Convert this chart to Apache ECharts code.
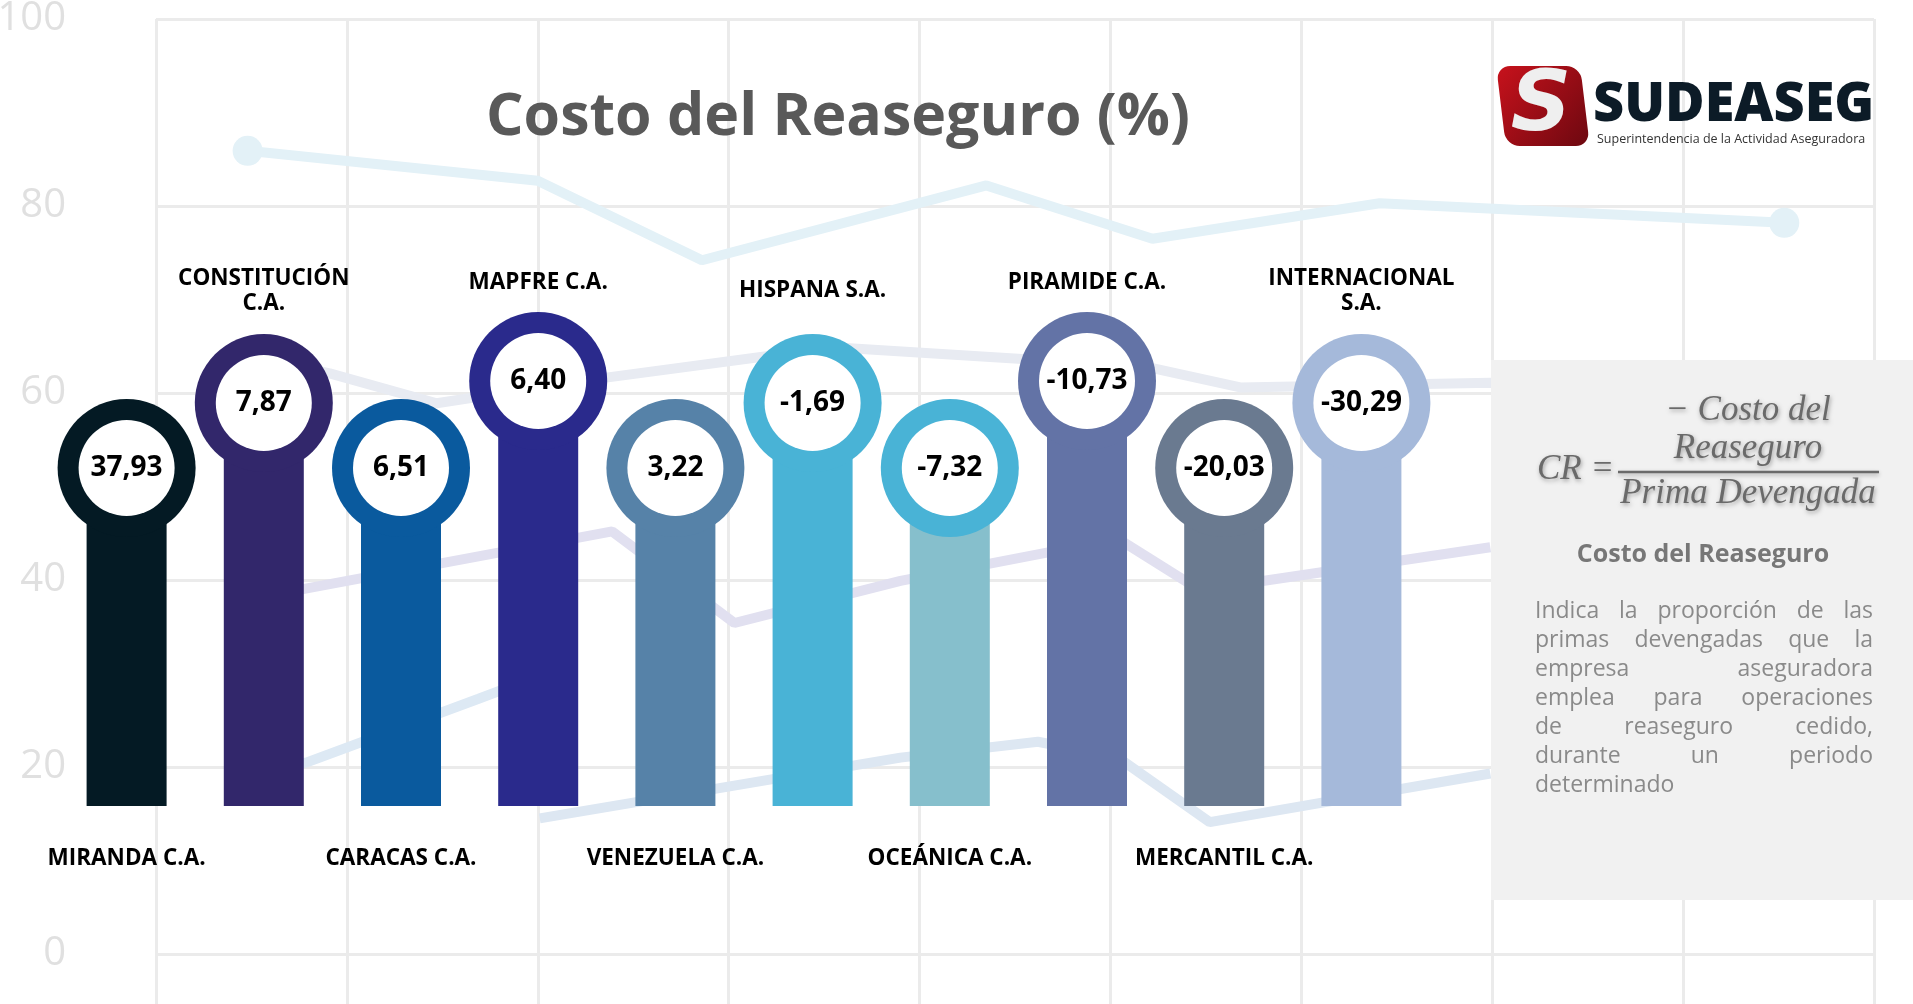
<!DOCTYPE html>
<html lang="es">
<head>
<meta charset="UTF-8">
<title>Costo del Reaseguro</title>
<style>
    html, body { margin: 0; padding: 0; background: #fff; }
    #main { width: 1913px; height: 1004px; }
</style>
</head>
<body>
<div id="main"></div>
<script src="https://cdn.jsdelivr.net/npm/echarts@6/dist/echarts.min.js"></script>
<script>
    // empresas y costo del reaseguro (%)
    var companies = ['MIRANDA C.A.', 'CONSTITUCIÓN\nC.A.', 'CARACAS C.A.', 'MAPFRE C.A.', 'VENEZUELA C.A.',
        'HISPANA S.A.', 'OCEÁNICA C.A.', 'PIRAMIDE C.A.', 'MERCANTIL C.A.', 'INTERNACIONAL\nS.A.'];
    var costo = [37.93, 7.87, 6.51, 6.40, 3.22, -1.69, -7.32, -10.73, -20.03, -30.29];

    var barColors = ['#041a24', '#32276b', '#0a5a9e', '#2a2a8c', '#5682a8', '#49b3d6', '#86bfcc', '#6373a6', '#6a7a90', '#a5b9da'];
    var ringColors = ['#041a24', '#32276b', '#0a5a9e', '#2a2a8c', '#5682a8', '#49b3d6', '#49b3d6', '#6373a6', '#6a7a90', '#a5b9da'];

    // grafico de lineas tenue del fondo [x, y]
    var bgLineA = [[0.48, 85.9], [2.0, 82.7], [2.86, 74.2], [4.35, 82.2], [5.22, 76.5], [6.41, 80.3], [8.53, 78.2]];
    var bgLineB = [[0.48, 64.0], [0.91, 62.1], [1.47, 58.9], [2.27, 61.4], [3.55, 64.9], [5.19, 62.8], [5.68, 60.6], [6.99, 61.1], [7.6, 60.5]];
    var bgLineC = [[0.37, 37.5], [2.39, 45.2], [3.03, 35.4], [3.9, 39.9], [5.04, 44.4], [5.47, 38.9], [6.99, 43.5]];
    var bgLineD = [[0.4, 19.1], [0.79, 20.5], [1.69, 27.3], [2.12, 30.6]];
    var bgLineE = [[2.01, 14.5], [3.9, 21.0], [4.62, 22.7], [5.04, 21.0], [5.52, 14.1], [6.99, 19.3]];

    var paragraph = [
        'Indica la proporción de las',
        'primas devengadas que la',
        'empresa aseguradora',
        'emplea para operaciones',
        'de reaseguro cedido,',
        'durante un periodo',
        'determinado'
    ];

    var FONT = '"Open Sans", sans-serif';

    function fmt(v) {
        return v.toFixed(2).replace('.', ',');
    }

    function renderPin(params, api) {
        var i = api.value(0);
        var base = api.coord([i, 0]);
        var x = base[0], y0 = base[1];
        // cabezas alternadas: abajo / arriba
        var stem = i % 2 === 0 ? 338 : (i % 4 === 3 ? 425 : 403);
        var cy = y0 - stem;
        return {
            type: 'group',
            children: [
                {type: 'rect', shape: {x: x - 40, y: cy, width: 80, height: y0 - cy}, style: {fill: barColors[i]}},
                {type: 'circle', shape: {cx: x, cy: cy, r: 69}, style: {fill: ringColors[i]}},
                {type: 'circle', shape: {cx: x, cy: cy, r: 48}, style: {fill: '#fff'}},
                {
                    type: 'text', x: x, y: cy,
                    style: {text: fmt(api.value(1)), fill: '#000', font: 'bold 28px ' + FONT, align: 'center', verticalAlign: 'middle'}
                },
                {
                    type: 'text', x: x, y: i % 2 === 0 ? y0 + 53 : cy - (i % 4 === 3 ? 98 : 112),
                    style: {text: companies[i], fill: '#000', font: 'bold 22.5px ' + FONT, align: 'center', verticalAlign: 'middle', lineHeight: 25}
                }
            ]
        };
    }

    function bgLine(data, color, dots) {
        return {
            type: 'line', xAxisIndex: 0, yAxisIndex: 0, data: data,
            symbol: 'circle',
            symbolSize: function (v, p) {
                return dots && (p.dataIndex === 0 || p.dataIndex === data.length - 1) ? 30 : 0;
            },
            showSymbol: !!dots,
            itemStyle: {color: color},
            lineStyle: {color: color, width: 10},
            silent: true, z: 1, animation: false
        };
    }

    // texto justificado del panel
    var measure = document.createElement('canvas').getContext('2d');
    var paraFont = '23px ' + FONT;
    measure.font = paraFont;
    var paraEls = [];
    var pLeft = 1535, pRight = 1873, pTop = 611, pStep = 29;
    paragraph.forEach(function (line, li) {
        var words = line.split(' ');
        var y = pTop + li * pStep;
        if (li === paragraph.length - 1 || words.length === 1) {
            paraEls.push({type: 'text', x: pLeft, y: y, z: 6, style: {text: line, font: paraFont, fill: '#8a8a8a', verticalAlign: 'middle'}});
            return;
        }
        var total = 0;
        words.forEach(function (w) { total += measure.measureText(w).width; });
        var gap = (pRight - pLeft - total) / (words.length - 1);
        var cx = pLeft;
        words.forEach(function (w) {
            paraEls.push({type: 'text', x: cx, y: y, z: 6, style: {text: w, font: paraFont, fill: '#8a8a8a', verticalAlign: 'middle'}});
            cx += measure.measureText(w).width + gap;
        });
    });

    var shadow = {textShadowColor: 'rgba(0,0,0,0.35)', textShadowBlur: 4, textShadowOffsetX: 1, textShadowOffsetY: 2};
    var mathFont = 'italic 35px "Liberation Serif", serif';

    var chart = echarts.init(document.getElementById('main'));
    var option = {
        backgroundColor: '#ffffff',
        animation: false,
        grid: [
            {left: 156, right: 39, top: 19, bottom: -137, containLabel: false, outerBoundsMode: 'none'},
            {left: 58, right: 483, top: 0, bottom: 198, outerBoundsMode: 'none'}
        ],
        xAxis: [
            {
                type: 'value', gridIndex: 0, min: 0, max: 9, interval: 1,
                axisLine: {show: false}, axisTick: {show: false}, axisLabel: {show: false},
                splitLine: {lineStyle: {color: '#ebebeb', width: 3}}
            },
            {
                type: 'category', gridIndex: 1, data: companies, show: false
            }
        ],
        yAxis: [
            {
                type: 'value', gridIndex: 0, min: -20, max: 100, interval: 20,
                axisLine: {show: false}, axisTick: {show: false},
                axisLabel: {
                    color: '#e0e0e0', fontSize: 40, fontFamily: 'Open Sans', margin: 90,
                    formatter: function (v) { return v < 0 ? '' : v; }
                },
                splitLine: {lineStyle: {color: '#ebebeb', width: 3}}
            },
            {
                type: 'value', gridIndex: 1, min: 0, max: 100, show: false
            }
        ],
        series: [
            bgLine(bgLineA, '#e3f1f7', true),
            bgLine(bgLineB, '#e8ebf2', false),
            bgLine(bgLineC, '#e1e0f0', false),
            bgLine(bgLineD, '#dde9f4', false),
            bgLine(bgLineE, '#dde7f2', false),
            {
                type: 'custom', xAxisIndex: 1, yAxisIndex: 1, z: 10,
                renderItem: renderPin,
                data: costo.map(function (v, i) { return [i, v]; })
            }
        ],
        graphic: [
            {
                type: 'text', x: 838, y: 118, z: 6,
                style: {text: 'Costo del Reaseguro (%)', font: 'bold 59px ' + FONT, fill: '#595959', align: 'center', verticalAlign: 'middle'}
            },
            // logo
            {
                type: 'rect', x: 1543, y: 106, skewX: 0.12, z: 6,
                shape: {x: -42, y: -40, width: 84, height: 80, r: 14},
                style: {
                    fill: new echarts.graphic.LinearGradient(0, 0, 1, 1, [
                        {offset: 0, color: '#c8121c'}, {offset: 1, color: '#6c0810'}
                    ])
                }
            },
            {
                type: 'text', x: 1541, y: 108, z: 7,
                style: {text: 'S', font: 'italic bold 84px "DejaVu Sans", sans-serif', fill: '#efefef', align: 'center', verticalAlign: 'middle'}
            },
            {
                type: 'text', x: 1593, y: 106, z: 6,
                style: {text: 'SUDEASEG', font: '800 54px ' + FONT, fill: '#0c1b27', verticalAlign: 'middle'}
            },
            {
                type: 'text', x: 1597, y: 139, z: 6,
                style: {text: 'Superintendencia de la Actividad Aseguradora', font: '12.5px ' + FONT, fill: '#333', verticalAlign: 'middle'}
            },
            // panel derecho
            {
                type: 'rect', z: 5, shape: {x: 1491, y: 360, width: 430, height: 540},
                style: {fill: '#f1f1f1'}
            },
            {
                type: 'text', x: 1537, y: 470, z: 6,
                style: Object.assign({text: 'CR =', font: mathFont, fill: '#6a6a6a', verticalAlign: 'middle'}, shadow)
            },
            {
                type: 'text', x: 1748, y: 411, z: 6,
                style: Object.assign({text: '− Costo del', font: mathFont, fill: '#6a6a6a', align: 'center', verticalAlign: 'middle'}, shadow)
            },
            {
                type: 'text', x: 1748, y: 449, z: 6,
                style: Object.assign({text: 'Reaseguro', font: mathFont, fill: '#6a6a6a', align: 'center', verticalAlign: 'middle'}, shadow)
            },
            {
                type: 'line', z: 6, shape: {x1: 1618, y1: 472, x2: 1879, y2: 472},
                style: {stroke: '#6a6a6a', lineWidth: 2.5, shadowColor: 'rgba(0,0,0,0.3)', shadowBlur: 4, shadowOffsetY: 2}
            },
            {
                type: 'text', x: 1748, y: 494, z: 6,
                style: Object.assign({text: 'Prima Devengada', font: mathFont, fill: '#6a6a6a', align: 'center', verticalAlign: 'middle'}, shadow)
            },
            {
                type: 'text', x: 1703, y: 555, z: 6,
                style: {text: 'Costo del Reaseguro', font: 'bold 25px ' + FONT, fill: '#777', align: 'center', verticalAlign: 'middle'}
            }
        ].concat(paraEls)
    };
    chart.setOption(option);
</script>
</body>
</html>
